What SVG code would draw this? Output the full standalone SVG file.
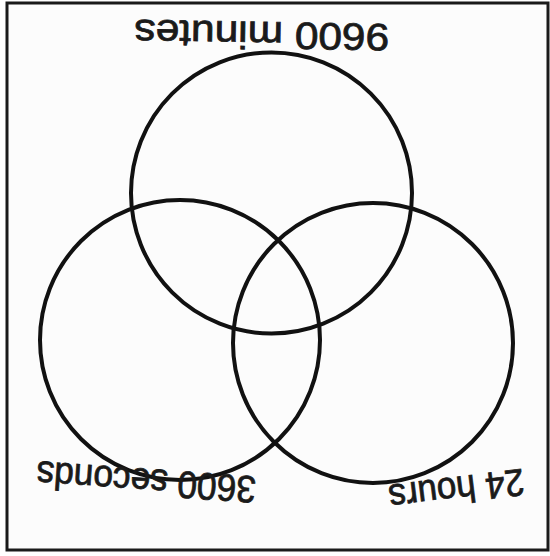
<svg xmlns="http://www.w3.org/2000/svg" width="550" height="556" viewBox="0 0 550 556">
  <style>
    .frame { fill: #fcfcfc; stroke: #1a1a1a; stroke-width: 3; }
    .set { fill: none; stroke: #111; stroke-width: 4; }
    .label { font-family: "Liberation Sans", "DejaVu Sans", sans-serif; font-size: 38px; fill: #1a1a1a; text-anchor: middle; stroke: #1a1a1a; stroke-width: 0.8; }
  </style>
  <rect width="550" height="556" fill="#ffffff"/>
  <rect class="frame" x="7" y="3" width="541" height="547"/>
  <g id="connectors"></g>
  <g id="set-minutes">
    <circle class="set" cx="271.5" cy="193" r="140.5"/>
    <text class="label" x="262" y="22" textLength="255" lengthAdjust="spacingAndGlyphs" transform="rotate(181 262 22)">9600 minutes</text>
  </g>
  <g id="set-seconds">
    <circle class="set" cx="180" cy="340" r="140"/>
    <text class="label" x="147" y="469" textLength="220" lengthAdjust="spacingAndGlyphs" transform="rotate(184 147 469)">3600 seconds</text>
  </g>
  <g id="set-hours">
    <circle class="set" cx="373" cy="343" r="140"/>
    <text class="label" x="455" y="477" textLength="136" lengthAdjust="spacingAndGlyphs" transform="rotate(173 455 477)">24 hours</text>
  </g>
</svg>
